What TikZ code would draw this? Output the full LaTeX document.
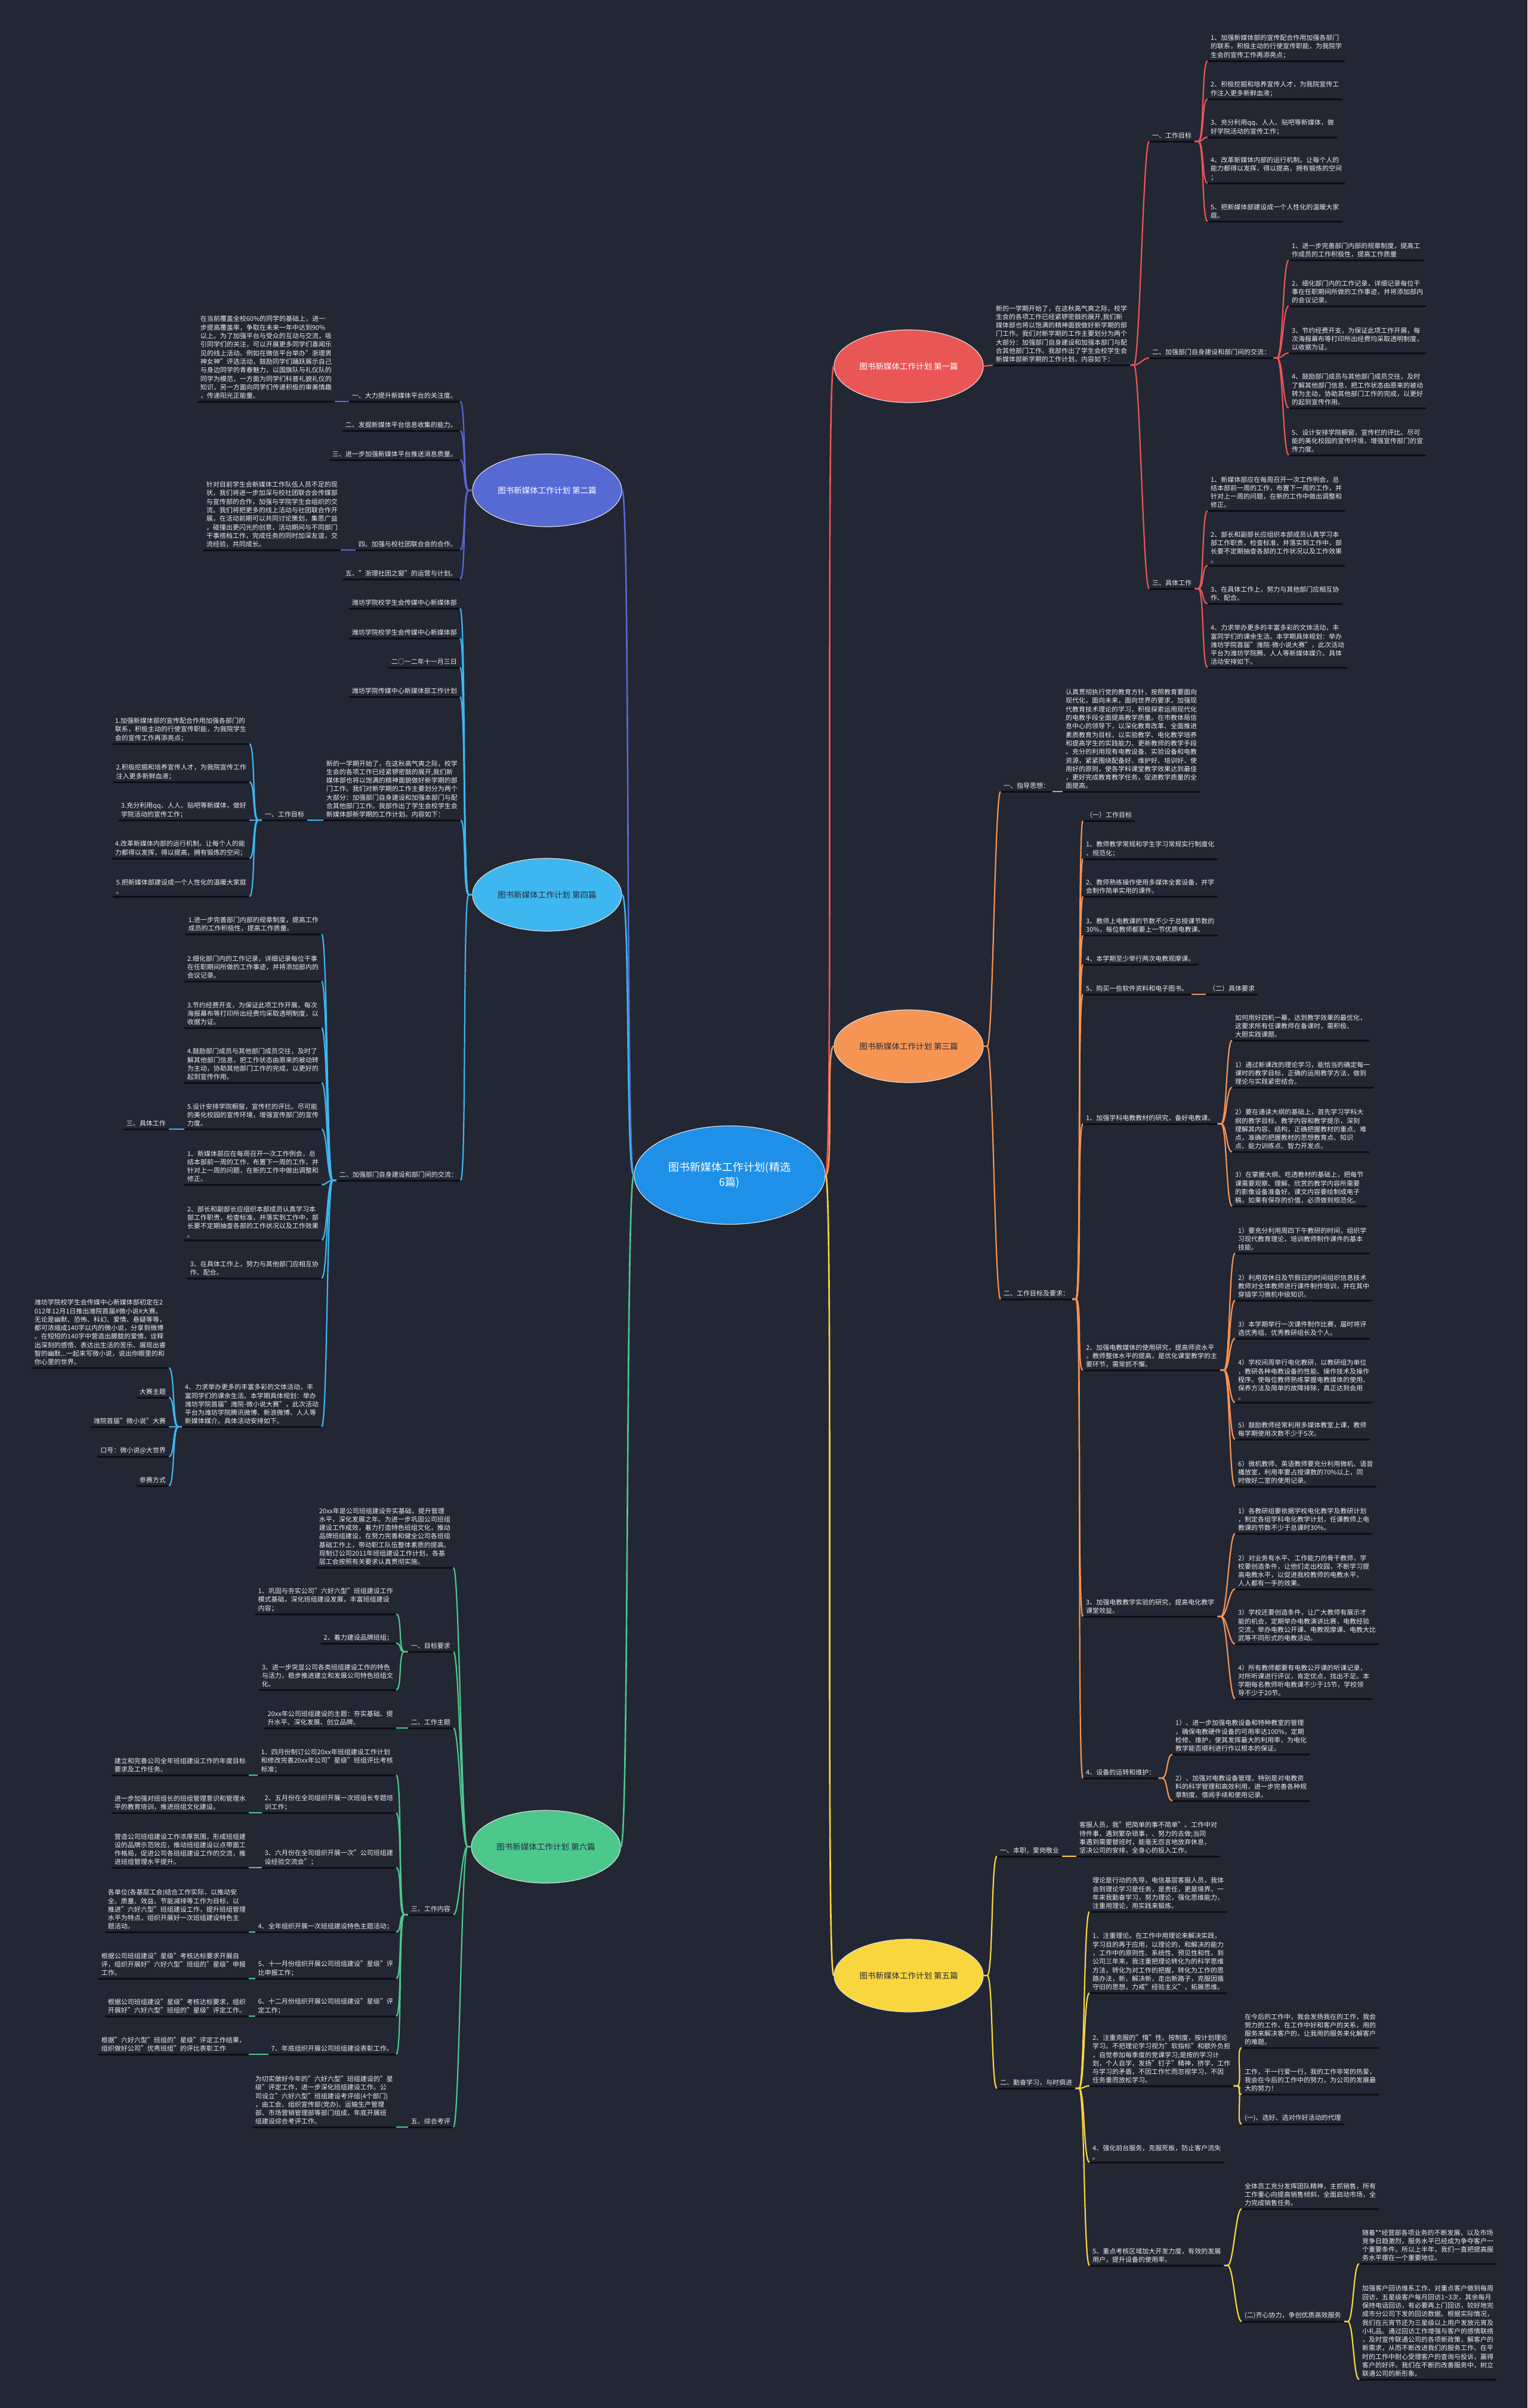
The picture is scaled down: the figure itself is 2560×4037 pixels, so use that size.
\documentclass[tikz,border=0pt]{standalone}
\usepackage{fontspec}
\setmainfont{Noto Sans CJK SC}
\usepackage{xcolor}
\usepackage{tikz}
\usetikzlibrary{shapes.geometric}

\definecolor{bgc}{RGB}{35,38,51}
\definecolor{ulc}{RGB}{13,14,19}
\definecolor{txc}{RGB}{238,238,238}
\definecolor{dkc}{RGB}{40,44,58}
\definecolor{rootc}{RGB}{30,144,232}
\definecolor{redc}{RGB}{234,86,86}
\definecolor{vioc}{RGB}{86,106,212}
\definecolor{orac}{RGB}{246,148,84}
\definecolor{skyc}{RGB}{62,182,240}
\definecolor{yelc}{RGB}{250,214,62}
\definecolor{grnc}{RGB}{76,200,140}

\newcommand{\leaffont}{\fontsize{11}{14.3}\selectfont}

\begin{document}
\begin{tikzpicture}[x=1pt,y=-1pt,font=\leaffont,
  uline/.style={draw=ulc,line width=3pt},
  leaf/.style={anchor=south west,align=left,inner xsep=5pt,inner ysep=4pt,text=txc,
    append after command={(\tikzlastnode.south west) edge[uline] (\tikzlastnode.south east)}},
  leafl/.style={leaf,anchor=south east},
  topic/.style={ellipse,draw=white!85!black,line width=1.2pt,minimum width=250pt,minimum height=122pt,
    font=\fontsize{13.5}{16}\selectfont},
  trunk/.style={line width=2.6pt},
  rlink/.style={line width=2.2pt,to path={-- ++(6,0) .. controls +(10,0) and +(-10,0) .. (\tikztotarget)}},
  llink/.style={line width=2.2pt,to path={-- ++(-6,0) .. controls +(-10,0) and +(10,0) .. (\tikztotarget)}}]
\useasboundingbox (0,0) rectangle (2560,4037);
\fill[bgc] (0,0) rectangle (2560,4037);

\node[ellipse,fill=rootc,draw=white!85!black,line width=1.2pt,minimum width=320pt,minimum height=165pt,
  text=white,align=center,font=\fontsize{18}{25}\selectfont] (root) at (1223,1970) {图书新媒体工作计划(精选\\6篇)};
\node[topic,fill=redc,text=white] (br1) at (1523,614) {图书新媒体工作计划 第一篇};
\node[topic,fill=vioc,text=white] (br2) at (917,822) {图书新媒体工作计划 第二篇};
\node[topic,fill=orac,text=dkc] (br3) at (1523,1754) {图书新媒体工作计划 第三篇};
\node[topic,fill=skyc,text=dkc] (br4) at (917,1500) {图书新媒体工作计划 第四篇};
\node[topic,fill=yelc,text=dkc] (br5) at (1523,3312) {图书新媒体工作计划 第五篇};
\node[topic,fill=grnc,text=dkc] (br6) at (915,3096) {图书新媒体工作计划 第六篇};
\draw[redc,trunk] (root.east) .. controls +(14,0) and +(-14,0) .. (br1.west);
\draw[orac,trunk] (root.east) .. controls +(14,0) and +(-14,0) .. (br3.west);
\draw[yelc,trunk] (root.east) .. controls +(14,0) and +(-14,0) .. (br5.west);
\draw[vioc,trunk] (root.west) .. controls +(-14,0) and +(14,0) .. (br2.east);
\draw[skyc,trunk] (root.west) .. controls +(-14,0) and +(14,0) .. (br4.east);
\draw[grnc,trunk] (root.west) .. controls +(-14,0) and +(14,0) .. (br6.east);

\node[leaf] (b1) at (1664,612) {新的一学期开始了，在这秋高气爽之际，校学\\生会的各项工作已经紧锣密鼓的展开,我们新\\媒体部也将以饱满的精神面貌做好新学期的部\\门工作。我们对新学期的工作主要划分为两个\\大部分：加强部门自身建设和加强本部门与配\\合其他部门工作。我部作出了学生会校学生会\\新媒体部新学期的工作计划。内容如下：};
\draw[redc,line width=2.2pt] (br1.east) -- (b1.south west);
\node[leaf] (b1a) at (1926,237) {一、工作目标};
\node[leaf] (b1b) at (1926,600) {二、加强部门自身建设和部门间的交流：};
\node[leaf] (b1c) at (1926,987) {三、具体工作};
\foreach \n in {b1a,b1b,b1c} \draw[redc,rlink] (b1.south east) to (\n.south west);
\foreach \i/\y/\txt in {
  1/102/{1、加强新媒体部的宣传配合作用加强各部门\\的联系，积极主动的行使宣传职能，为我院学\\生会的宣传工作再添亮点；},
  2/166/{2、积极挖掘和培养宣传人才，为我院宣传工\\作注入更多新鲜血液；},
  3/230/{3、充分利用qq、人人、贴吧等新媒体，做\\好学院活动的宣传工作；},
  4/307/{4、改革新媒体内部的运行机制。让每个人的\\能力都得以发挥，得以提高，拥有锻炼的空间\\；},
  5/371/{5、把新媒体部建设成一个人性化的温暖大家\\庭。}}{
  \node[leaf] (b1a\i) at (2024,\y) {\txt};
  \draw[redc,rlink] (b1a.south east) to (b1a\i.south west);
}
\foreach \i/\y/\txt in {
  1/436/{1、进一步完善部门内部的规章制度，提高工\\作成员的工作积极性，提高工作质量},
  2/513/{2、细化部门内的工作记录，详细记录每位干\\事在任职期间所做的工作事迹，并将添加部内\\的会议记录。},
  3/592/{3、节约经费开支，为保证此项工作开展，每\\次海报幕布等打印所出经费均采取透明制度，\\以收据为证。},
  4/684/{4、鼓励部门成员与其他部门成员交往，及时\\了解其他部门信息，把工作状态由原来的被动\\转为主动，协助其他部门工作的完成，以更好\\的起到宣传作用。},
  5/763/{5、设计安排学院橱窗，宣传栏的评比。尽可\\能的美化校园的宣传环境，增强宣传部门的宣\\传力度。}}{
  \node[leaf] (b1b\i) at (2160,\y) {\txt};
  \draw[redc,rlink] (b1b.south east) to (b1b\i.south west);
}
\foreach \i/\y/\txt in {
  1/856/{1、新媒体部应在每周召开一次工作例会，总\\结本部前一周的工作，布置下一周的工作，并\\针对上一周的问题，在新的工作中做出调整和\\修正。},
  2/948/{2、部长和副部长应组织本部成员认真学习本\\部工作职责，检查标准，并落实到工作中，部\\长要不定期抽查各部的工作状况以及工作效果\\。},
  3/1012/{3、在具体工作上，努力与其他部门应相互协\\作、配合。},
  4/1119/{4、力求举办更多的丰富多彩的文体活动，丰\\富同学们的课余生活。本学期具体规划：举办\\潍坊学院首届"潍院-微小说大赛"，此次活动\\平台为潍坊学院腾、人人等新媒体媒介。具体\\活动安排如下。}}{
  \node[leaf] (b1c\i) at (2024,\y) {\txt};
  \draw[redc,rlink] (b1c.south east) to (b1c\i.south west);
}

\node[leafl] (b2a) at (771,673) {一、大力提升新媒体平台的关注度。};
\node[leafl] (b2b) at (771,722) {二、发掘新媒体平台信息收集的能力。};
\node[leafl] (b2c) at (771,771) {三、进一步加强新媒体平台推送消息质量。};
\node[leafl] (b2d) at (771,922) {四、加强与校社团联合会的合作。};
\node[leafl] (b2e) at (771,971) {五、"浙理社团之窗"的运营与计划。};
\foreach \n in {b2a,b2b,b2c,b2d,b2e} \draw[vioc,llink] (br2.west) to (\n.south east);
\node[leafl] (b2a1) at (561,673) {在当前覆盖全校60\%的同学的基础上，进一\\步提高覆盖率，争取在未来一年中达到90\%\\以上。为了加强平台与受众的互动与交流，吸\\引同学们的关注，可以开展更多同学们喜闻乐\\见的线上活动。例如在微信平台举办"浙理男\\神女神"评选活动，鼓励同学们踊跃展示自己\\与身边同学的青春魅力，以国旗队与礼仪队的\\同学为模范，一方面为同学们科普礼貌礼仪的\\知识，另一方面向同学们传递积极的审美情趣\\，传递阳光正能量。};
\node[leafl] (b2d1) at (571,922) {针对目前学生会新媒体工作队伍人员不足的现\\状，我们将进一步加深与校社团联合会传媒部\\与宣传部的合作，加强与学院学生会组织的交\\流。我们将把更多的线上活动与社团联合作开\\展，在活动前期可以共同讨论策划，集思广益\\，碰撞出更闪光的创意，活动期间与不同部门\\干事搭档工作，完成任务的同时加深友谊，交\\流经验，共同成长。};
\draw[vioc,llink] (b2a.south west) to (b2a1.south east);
\draw[vioc,llink] (b2d.south west) to (b2d1.south east);

\node[leafl] (b4a) at (771,1020) {潍坊学院校学生会传媒中心新媒体部};
\node[leafl] (b4b) at (771,1070) {潍坊学院校学生会传媒中心新媒体部};
\node[leafl] (b4c) at (771,1119) {二○一二年十一月三日};
\node[leafl] (b4d) at (771,1168) {潍坊学院传媒中心新媒体部工作计划};
\node[leafl] (b4e) at (772,1375) {新的一学期开始了，在这秋高气爽之际，校学\\生会的各项工作已经紧锣密鼓的展开,我们新\\媒体部也将以饱满的精神面貌做好新学期的部\\门工作。我们对新学期的工作主要划分为两个\\大部分：加强部门自身建设和加强本部门与配\\合其他部门工作。我部作出了学生会校学生会\\新媒体部新学期的工作计划。内容如下：};
\node[leafl] (b4g) at (772,1979) {二、加强部门自身建设和部门间的交流：};
\foreach \n in {b4a,b4b,b4c,b4d,b4e,b4g} \draw[skyc,llink] (br4.west) to (\n.south east);
\node[leafl] (b4f) at (515,1375) {一、工作目标};
\draw[skyc,llink] (b4e.south west) to (b4f.south east);
\foreach \i/\y/\txt in {
  1/1247/{1.加强新媒体部的宣传配合作用加强各部门的\\联系，积极主动的行使宣传职能，为我院学生\\会的宣传工作再添亮点；},
  2/1311/{2.积极挖掘和培养宣传人才，为我院宣传工作\\注入更多新鲜血液；},
  3/1375/{3.充分利用qq、人人、贴吧等新媒体，做好\\学院活动的宣传工作；},
  4/1439/{4.改革新媒体内部的运行机制。让每个人的能\\力都得以发挥，得以提高，拥有锻炼的空间；},
  5/1503/{5.把新媒体部建设成一个人性化的温暖大家庭\\。}}{
  \node[leafl] (b4f\i) at (418,\y) {\txt};
  \draw[skyc,llink] (b4f.south west) to (b4f\i.south east);
}
\foreach \i/\y/\txt in {
  1/1566/{1.进一步完善部门内部的规章制度，提高工作\\成员的工作积极性，提高工作质量。},
  2/1645/{2.细化部门内的工作记录，详细记录每位干事\\在任职期间所做的工作事迹，并将添加部内的\\会议记录。},
  3/1723/{3.节约经费开支，为保证此项工作开展，每次\\海报幕布等打印所出经费均采取透明制度，以\\收据为证。},
  4/1815/{4.鼓励部门成员与其他部门成员交往，及时了\\解其他部门信息，把工作状态由原来的被动转\\为主动，协助其他部门工作的完成，以更好的\\起到宣传作用。},
  5/1893/{5.设计安排学院橱窗，宣传栏的评比。尽可能\\的美化校园的宣传环境，增强宣传部门的宣传\\力度。},
  6/1986/{1、新媒体部应在每周召开一次工作例会，总\\结本部前一周的工作，布置下一周的工作，并\\针对上一周的问题，在新的工作中做出调整和\\修正。},
  7/2079/{2、部长和副部长应组织本部成员认真学习本\\部工作职责，检查标准，并落实到工作中，部\\长要不定期抽查各部的工作状况以及工作效果\\。},
  8/2143/{3、在具体工作上，努力与其他部门应相互协\\作、配合。},
  9/2392/{4、力求举办更多的丰富多彩的文体活动，丰\\富同学们的课余生活。本学期具体规划：举办\\潍坊学院首届"潍院-微小说大赛"，此次活动\\平台为潍坊学院腾讯微博、新浪微博、人人等\\新媒体媒介。具体活动安排如下。}}{
  \node[leafl] (b4g\i) at (539,\y) {\txt};
  \draw[skyc,llink] (b4g.south west) to (b4g\i.south east);
}
\node[leafl] (b4h) at (283,1893) {三、具体工作};
\draw[skyc,llink] (b4g5.south west) to (b4h.south east);
\foreach \i/\y/\txt in {
  1/2293/{潍坊学院校学生会传媒中心新媒体部初定在2\\012年12月1日推出潍院首届\#微小说\#大赛。\\无论是幽默、恐怖、科幻、爱情、悬疑等等，\\都可浓缩成140字以内的微小说，分享到微博\\。在短短的140字中营造出朦胧的爱情，诠释\\出深刻的感悟、表达出生活的苦乐、展现出睿\\智的幽默...一起来写微小说，说出你眼里的和\\你心里的世界。},
  2/2343/{大赛主题},
  3/2392/{潍院首届"微小说"大赛},
  4/2442/{口号：微小说@大世界},
  5/2491/{参赛方式}}{
  \node[leafl] (b4k\i) at (283,\y) {\txt};
  \draw[skyc,llink] (b4g9.south west) to (b4k\i.south east);
}

\node[leafl] (b6a) at (760,2628) {20xx年是公司班组建设夯实基础，提升管理\\水平，深化发展之年。为进一步巩固公司班组\\建设工作成效，着力打造特色班组文化，推动\\品牌班组建设，在努力完善和健全公司各班组\\基础工作上，带动职工队伍整体素质的提高。\\现制订公司2011年班组建设工作计划，各基\\层工会按照有关要求认真贯彻实施。};
\node[leafl] (b6b) at (760,2769) {一、目标要求};
\node[leafl] (b6c) at (760,2897) {二、工作主题};
\node[leafl] (b6d) at (760,3210) {三、工作内容};
\node[leafl] (b6e) at (760,3566) {五、综合考评};
\foreach \n in {b6a,b6b,b6c,b6d,b6e} \draw[grnc,llink] (br6.west) to (\n.south east);
\foreach \i/\y/\txt in {
  1/2706/{1、巩固与夯实公司"六好六型"班组建设工作\\模式基础，深化班组建设发展，丰富班组建设\\内容；},
  2/2755/{2、着力建设品牌班组；},
  3/2833/{3、进一步突显公司各类班组建设工作的特色\\与活力，稳步推进建立和发展公司特色班组文\\化。}}{
  \node[leafl] (b6b\i) at (664,\y) {\txt};
  \draw[grnc,llink] (b6b.south west) to (b6b\i.south east);
}
\node[leafl] (b6c1) at (664,2897) {20xx年公司班组建设的主题：夯实基础、提\\升水平、深化发展、创立品牌。};
\draw[grnc,llink] (b6c.south west) to (b6c1.south east);
\foreach \i/\y/\txa/\txb in {
  1/2976/{1、四月份制订公司20xx年班组建设工作计划\\和修改完善20xx年公司"星级"班组评比考核\\标准；}/{建立和完善公司全年班组建设工作的年度目标\\要求及工作任务。},
  2/3039/{2、五月份在全司组织开展一次班组长专题培\\训工作；}/{进一步加强对班组长的班组管理意识和管理水\\平的教育培训，推进班组文化建设。},
  3/3131/{3、六月份在全司组织开展一次"公司班组建\\设经验交流会"；}/{营造公司班组建设工作浓厚氛围，形成班组建\\设的品牌示范效应，推动班组建设以点带面工\\作格局，促进公司各班组建设工作的交流，推\\进班组管理水平提升。},
  4/3239/{4、全年组织开展一次班组建设特色主题活动；}/{各单位(各基层工会)结合工作实际，以推动安\\全、质量、效益、节能减排等工作为目标，以\\推进"六好六型"班组建设工作，提升班组管理\\水平为特点，组织开展好一次班组建设特色主\\题活动。},
  5/3317/{5、十一月份组织开展公司班组建设"星级"评\\比申报工作；}/{根据公司班组建设"星级"考核达标要求开展自\\评，组织开展好"六好六型"班组的"星级"申报\\工作。},
  6/3380/{6、十二月份组织开展公司班组建设"星级"评\\定工作；}/{根据公司班组建设"星级"考核达标要求，组织\\开展好"六好六型"班组的"星级"评定工作。},
  7/3444/{7、年底组织开展公司班组建设表彰工作。}/{根据"六好六型"班组的"星级"评定工作结果，\\组织做好公司"优秀班组"的评比表彰工作}}{
  \node[leafl] (b6d\i) at (664,\y) {\txa};
  \node[leafl] (b6f\i) at (417,\y) {\txb};
  \draw[grnc,llink] (b6d.south west) to (b6d\i.south east);
  \draw[grnc,llink] (b6d\i.south west) to (b6f\i.south east);
}
\node[leafl] (b6e1) at (664,3566) {为切实做好今年的"六好六型"班组建设的"星\\级"评定工作，进一步深化班组建设工作。公\\司设立"六好六型"班组建设考评组(4个部门)\\，由工会、组织宣传部(党办)、运输生产管理\\部、市场营销管理部等部门组成，年底开展班\\组建设综合考评工作。};
\draw[grnc,llink] (b6e.south west) to (b6e1.south east);

\node[leaf] (b3a) at (1677,1327) {一、指导思想：};
\node[leaf] (b3b) at (1677,2178) {二、工作目标及要求：};
\foreach \n in {b3a,b3b} \draw[orac,rlink] (br3.east) to (\n.south west);
\node[leaf] (b3a1) at (1781,1327) {认真贯彻执行党的教育方针，按照教育要面向\\现代化，面向未来，面向世界的要求，加强现\\代教育技术理论的学习，积极探索运用现代化\\的电教手段全面提高教学质量。在市教体局信\\息中心的领导下，以深化教育改革、全面推进\\素质教育为目标，以实验教学、电化教学培养\\和提高学生的实践能力、更新教师的教学手段\\。充分的利用现有电教设备、实验设备和电教\\资源，紧紧围绕配备好、维护好、培训好、使\\用好的原则，使各学科课堂教学效果达到最佳\\，更好完成教育教学任务，促进教学质量的全\\面提高。};
\draw[orac,rlink] (b3a.south east) to (b3a1.south west);
\foreach \i/\y/\txt in {
  0/1376/{（一）工作目标},
  1/1440/{1、教师教学常规和学生学习常规实行制度化\\、规范化；},
  2/1503/{2、教师熟练操作使用多媒体全套设备，并学\\会制作简单实用的课件。},
  3/1568/{3、教师上电教课的节数不少于总授课节数的\\30\%，每位教师都要上一节优质电教课。},
  4/1617/{4、本学期至少举行两次电教观摩课。},
  5/1667/{5、购买一些软件资料和电子图书。},
  6/1884/{1、加强学科电教教材的研究，备好电教课。},
  7/2297/{2、加强电教媒体的使用研究，提高师资水平\\。教师整体水平的提高，是优化课堂教学的主\\要环节，需常抓不懈。},
  8/2710/{3、加强电教教学实验的研究，提高电化教学\\课堂效益。},
  9/2981/{4、设备的运转和维护：}}{
  \node[leaf] (b3b\i) at (1815,\y) {\txt};
  \draw[orac,rlink] (b3b.south east) to (b3b\i.south west);
}
\node[leaf] (b3c) at (2021,1667) {（二）具体要求};
\draw[orac,rlink] (b3b5.south east) to (b3c.south west);
\foreach \i/\y/\txt in {
  1/1744/{如何用好四机一幕，达到教学效果的最优化，\\这要求所有任课教师在备课时，需积极、\\大胆实践课题。},
  2/1823/{1）通过新课改的理论学习，能恰当的确定每一\\课时的教学目标，正确的运用教学方法，做到\\理论与实践紧密结合。},
  3/1931/{2）要在通读大纲的基础上，首先学习学科大\\纲的教学目标、教学内容和教学提示，深刻\\理解其内容、结构，正确把握教材的重点、难\\点，准确的把握教材的思想教育点、知识\\点、能力训练点、智力开发点。},
  4/2022/{3）在掌握大纲、吃透教材的基础上，把每节\\课需要观察、理解、欣赏的教学内容所需要\\的影像设备准备好。课文内容要绘制成电子\\稿，如果有保存的价值，必须做到规范化。}}{
  \node[leaf] (b3d\i) at (2065,\y) {\txt};
  \draw[orac,rlink] (b3b6.south east) to (b3d\i.south west);
}
\foreach \i/\y/\txt in {
  1/2101/{1）要充分利用周四下午教研的时间，组织学\\习现代教育理论，培训教师制作课件的基本\\技能。},
  2/2180/{2）利用双休日及节假日的时间组织信息技术\\教师对全体教师进行课件制作培训，并在其中\\穿插学习微机中级知识。},
  3/2244/{3）本学期举行一次课件制作比赛，届时将评\\选优秀组、优秀教研组长及个人。},
  4/2351/{4）学校间周举行电化教研，以教研组为单位\\，教研各种电教设备的性能、操作技术及操作\\程序。使每位教师熟练掌握电教媒体的使用、\\保养方法及简单的故障排除，真正达到会用\\。},
  5/2413/{5）鼓励教师经常利用多媒体教室上课，教师\\每学期使用次数不少于5次。},
  6/2492/{6）微机教师、英语教师要充分利用微机、语音\\播放室，利用率要占授课数的70\%以上，同\\时做好二室的使用记录。}}{
  \node[leaf] (b3e\i) at (2070,\y) {\txt};
  \draw[orac,rlink] (b3b7.south east) to (b3e\i.south west);
}
\foreach \i/\y/\txt in {
  1/2571/{1）各教研组要依据学校电化教学及教研计划\\，制定各组学科电化教学计划，任课教师上电\\教课的节数不少于总课时30\%。},
  2/2664/{2）对业务有水平、工作能力的骨干教师，学\\校要创造条件，让他们走出校园，不断学习提\\高电教水平，以促进我校教师的电教水平，\\人人都有一手的效果。},
  3/2756/{3）学校还要创造条件，让广大教师有展示才\\能的机会，定期举办电教演讲比赛，电教经验\\交流，举办电教公开课、电教观摩课、电教大比\\武等不同形式的电教活动。},
  4/2848/{4）所有教师都要有电教公开课的听课记录，\\对所听课进行评议，肯定优点，找出不足。本\\学期每名教师听电教课不少于15节，学校领\\导不少于20节。}}{
  \node[leaf] (b3f\i) at (2070,\y) {\txt};
  \draw[orac,rlink] (b3b8.south east) to (b3f\i.south west);
}
\foreach \i/\y/\txt in {
  1/2941/{1）、进一步加强电教设备和特种教室的管理\\，确保电教硬件设备的可用率达100\%，定期\\检修、维护，使其发挥最大的利用率，为电化\\教学能否顺利进行作以根本的保证。},
  2/3019/{2）、加强对电教设备管理，特别是对电教资\\料的科学管理和高效利用，进一步完善各种规\\章制度、借阅手续和使用记录。}}{
  \node[leaf] (b3g\i) at (1965,\y) {\txt};
  \draw[orac,rlink] (b3b9.south east) to (b3g\i.south west);
}

\node[leaf] (b5a) at (1671,3112) {一、本职，爱岗敬业};
\node[leaf] (b5b) at (1671,3501) {二、勤奋学习，与时俱进};
\foreach \n in {b5a,b5b} \draw[yelc,rlink] (br5.east) to (\n.south west);
\node[leaf] (b5a1) at (1804,3112) {客服人员，我"把简单的事不简单"。工作中对\\待件事，遇到繁杂琐事，、努力的去做;当同\\事遇到需要替班时，能毫无怨言地放弃休息，\\坚决公司的安排，全身心的投入工作。};
\draw[yelc,rlink] (b5a.south east) to (b5a1.south west);
\foreach \i/\y/\txt in {
  1/3205/{理论是行动的先导。电信基层客服人员，我体\\会到理论学习是任务，是责任，更是境界。一\\年来我勤奋学习，努力理论，强化思维能力，\\注重用理论，用实践来锻炼。},
  2/3341/{1、注重理论。在工作中用理论来解决实践，\\学习目的再于应用，以理论的，和解决的能力\\，工作中的原则性、系统性、预见性和性。到\\公司三年来，我注重把理论转化为的科学思维\\方法，转化为对工作的把握，转化为工作的思\\路办法，新，解决新，走出新路子，克服因循\\守旧的思想，力戒"经验主义"，拓展思维。},
  3/3497/{2、注重克服的"惰"性。按制度，按计划理论\\学习。不把理论学习视为"软指标"和额外负担\\，自觉参加每季度的党课学习;是按的学习计\\划，个人自学，发扬"钉子"精神，挤学，工作\\与学习的矛盾，不因工作忙而忽视学习，不因\\任务重而放松学习。},
  4/3625/{4、强化前台服务，克服死板，防止客户流失\\。},
  5/3798/{5、重点考核区域加大开发力度，有效的发展\\用户，提升设备的使用率。}}{
  \node[leaf] (b5b\i) at (1826,\y) {\txt};
  \draw[yelc,rlink] (b5b.south east) to (b5b\i.south west);
}
\foreach \i/\y/\txt in {
  1/3433/{在今后的工作中，我会发扬我在的工作，我会\\努力的工作，在工作中好和客户的关系，用的\\服务来解决客户的，让我用的服务来化解客户\\的难题。},
  2/3511/{工作，干一行爱一行，我的工作非常的热爱，\\我会在今后的工作中的努力，为公司的发展最\\大的努力！},
  3/3561/{(一)、选好、选对作好活动的代理}}{
  \node[leaf] (b5c\i) at (2081,\y) {\txt};
  \draw[yelc,rlink] (b5b3.south east) to (b5c\i.south west);
}
\node[leaf] (b5d) at (2081,3703) {全体员工充分发挥团队精神，主抓销售，所有\\工作重心向提高销售倾斜，全面启动市场，全\\力完成销售任务。};
\node[leaf] (b5e) at (2081,3892) {(二)齐心协力，争创优质高效服务};
\foreach \n in {b5d,b5e} \draw[yelc,rlink] (b5b5.south east) to (\n.south west);
\node[leaf] (b5e1) at (2278,3795) {随着**经营部各项业务的不断发展，以及市场\\竞争日趋激烈，服务水平已经成为争夺客户一\\个重要条件。所以上半年，我们一直把提高服\\务水平摆在一个重要地位。};
\node[leaf] (b5e2) at (2278,3989) {加强客户回访维系工作，对重点客户做到每周\\回访，五星级客户每月回访1\textasciitilde 3次，其余每月\\保持电话回访，有必要再上门回访，较好地完\\成市分公司下发的回访数据。根据实际情况，\\我们在元宵节还为三星级以上用户发放元宵及\\小礼品。通过回访工作增强与客户的感情联络\\，及时宣传联通公司的各项新政策，解客户的\\新需求，从而不断改进我们的服务工作。在平\\时的工作中耐心受理客户的查询与投诉，赢得\\客户的好评。我们在不断的改善服务中，树立\\联通公司的新形象。};
\foreach \n in {b5e1,b5e2} \draw[yelc,rlink] (b5e.south east) to (\n.south west);
\end{tikzpicture}
\end{document}
